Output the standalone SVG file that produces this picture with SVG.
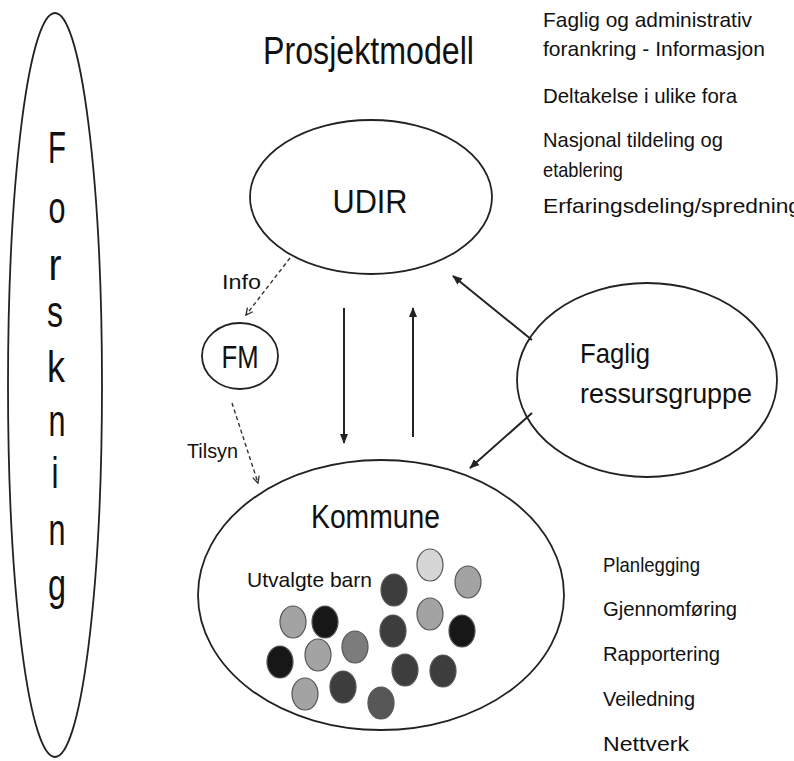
<svg xmlns="http://www.w3.org/2000/svg" width="794" height="761" viewBox="0 0 794 761">
<defs>
<style>
text{font-family:"Liberation Sans","DejaVu Sans",sans-serif;fill:#111}
.node{fill:none;stroke:#222;stroke-width:1.8}
.solid{stroke:#222;stroke-width:2;fill:none}
.dash{stroke:#333;stroke-width:1.4;fill:none;stroke-dasharray:4 3}
.dot{stroke:#555;stroke-width:1.2}
.c1{fill:#d6d6d6}
.c2{fill:#a3a3a3}
.c3{fill:#7c7c7c}
.c4{fill:#3d3d3d}
.c5{fill:#171717}
.c6{fill:#575757}
</style>
<marker id="ah" viewBox="0 0 10 10" refX="9" refY="5" markerWidth="5" markerHeight="5" orient="auto" markerUnits="strokeWidth">
<path d="M0,1 L10,5 L0,9 Z" fill="#222"/>
</marker>
<marker id="ahd" viewBox="0 0 10 10" refX="9" refY="5" markerWidth="6" markerHeight="6" orient="auto" markerUnits="strokeWidth">
<path d="M1,1 L9,5 L1,9" fill="none" stroke="#333" stroke-width="1.6"/>
</marker>
</defs>
<rect width="794" height="761" fill="#fff"/>

<g id="title">
<text x="263" y="64" font-size="38" textLength="211" lengthAdjust="spacingAndGlyphs">Prosjektmodell</text>
</g>

<g id="udir-notes" font-size="21">
<text x="543" y="27" textLength="209" lengthAdjust="spacingAndGlyphs">Faglig og administrativ</text>
<text x="543" y="56" textLength="222" lengthAdjust="spacingAndGlyphs">forankring - Informasjon</text>
<text x="543" y="103" textLength="194" lengthAdjust="spacingAndGlyphs">Deltakelse i ulike fora</text>
<text x="543" y="147" textLength="180" lengthAdjust="spacingAndGlyphs">Nasjonal tildeling og</text>
<text x="543" y="177" textLength="80" lengthAdjust="spacingAndGlyphs">etablering</text>
<text x="543" y="213" textLength="258" lengthAdjust="spacingAndGlyphs">Erfaringsdeling/spredning</text>
</g>

<g id="forskning">
<ellipse class="node" cx="55" cy="385" rx="47" ry="372"/>
<g font-size="44" text-anchor="middle">
<text x="57" y="163" textLength="18" lengthAdjust="spacingAndGlyphs">F</text>
<text x="57" y="223" textLength="17" lengthAdjust="spacingAndGlyphs">o</text>
<text x="55" y="280" textLength="13" lengthAdjust="spacingAndGlyphs">r</text>
<text x="55" y="327" textLength="16" lengthAdjust="spacingAndGlyphs">s</text>
<text x="56" y="382" textLength="18" lengthAdjust="spacingAndGlyphs">k</text>
<text x="57" y="436" textLength="17" lengthAdjust="spacingAndGlyphs">n</text>
<text x="55" y="488" textLength="7" lengthAdjust="spacingAndGlyphs">i</text>
<text x="57" y="545" textLength="17" lengthAdjust="spacingAndGlyphs">n</text>
<text x="57" y="600" textLength="18" lengthAdjust="spacingAndGlyphs">g</text>
</g>
</g>

<g id="udir">
<ellipse class="node" cx="371" cy="197" rx="121" ry="77"/>
<text x="370" y="213" font-size="34" text-anchor="middle" textLength="75" lengthAdjust="spacingAndGlyphs">UDIR</text>
</g>

<g id="fm">
<ellipse class="node" cx="240" cy="356" rx="38" ry="33"/>
<text x="240" y="368" font-size="32" text-anchor="middle" textLength="37" lengthAdjust="spacingAndGlyphs">FM</text>
</g>

<g id="faglig">
<ellipse class="node" cx="647" cy="380" rx="130" ry="97"/>
<text x="580" y="363" font-size="28" textLength="70" lengthAdjust="spacingAndGlyphs">Faglig</text>
<text x="580" y="403" font-size="28" textLength="172" lengthAdjust="spacingAndGlyphs">ressursgruppe</text>
</g>

<g id="kommune">
<ellipse class="node" cx="381" cy="595" rx="183" ry="135"/>
<text x="311" y="528" font-size="34" textLength="129" lengthAdjust="spacingAndGlyphs">Kommune</text>
<text x="247" y="587" font-size="21" textLength="125" lengthAdjust="spacingAndGlyphs">Utvalgte barn</text>
<g id="barn">
<ellipse class="dot c1" cx="430" cy="565" rx="13" ry="16"/>
<ellipse class="dot c2" cx="468" cy="582" rx="13" ry="16"/>
<ellipse class="dot c4" cx="394" cy="590" rx="13" ry="16"/>
<ellipse class="dot c2" cx="430" cy="614" rx="13" ry="16"/>
<ellipse class="dot c5" cx="462" cy="631" rx="13" ry="16"/>
<ellipse class="dot c4" cx="393" cy="631" rx="13" ry="16"/>
<ellipse class="dot c2" cx="293" cy="622" rx="13" ry="16"/>
<ellipse class="dot c5" cx="325" cy="622" rx="13" ry="16"/>
<ellipse class="dot c3" cx="355" cy="647" rx="13" ry="16"/>
<ellipse class="dot c2" cx="318" cy="655" rx="13" ry="16"/>
<ellipse class="dot c5" cx="280" cy="662" rx="13" ry="16"/>
<ellipse class="dot c4" cx="405" cy="670" rx="13" ry="16"/>
<ellipse class="dot c4" cx="443" cy="671" rx="13" ry="16"/>
<ellipse class="dot c2" cx="305" cy="694" rx="13" ry="16"/>
<ellipse class="dot c4" cx="343" cy="687" rx="13" ry="16"/>
<ellipse class="dot c6" cx="381" cy="703" rx="13" ry="16"/>
</g>
</g>

<g id="kommune-notes" font-size="21">
<text x="603" y="572" textLength="97" lengthAdjust="spacingAndGlyphs">Planlegging</text>
<text x="603" y="616" textLength="134" lengthAdjust="spacingAndGlyphs">Gjennomføring</text>
<text x="603" y="661" textLength="117" lengthAdjust="spacingAndGlyphs">Rapportering</text>
<text x="603" y="706" textLength="92" lengthAdjust="spacingAndGlyphs">Veiledning</text>
<text x="603" y="751" textLength="86" lengthAdjust="spacingAndGlyphs">Nettverk</text>
</g>

<g id="connectors">
<line class="dash" x1="290" y1="258" x2="246" y2="315" marker-end="url(#ahd)"/>
<text x="222" y="289" font-size="20" textLength="39" lengthAdjust="spacingAndGlyphs">Info</text>
<line class="dash" x1="232" y1="403" x2="258" y2="483" marker-end="url(#ahd)"/>
<text x="187" y="458" font-size="20" textLength="51" lengthAdjust="spacingAndGlyphs">Tilsyn</text>
<line class="solid" x1="344" y1="308" x2="344" y2="443" marker-end="url(#ah)"/>
<line class="solid" x1="413" y1="437" x2="413" y2="308" marker-end="url(#ah)"/>
<line class="solid" x1="532" y1="340" x2="453" y2="276" marker-end="url(#ah)"/>
<line class="solid" x1="532" y1="413" x2="470" y2="468" marker-end="url(#ah)"/>
</g>
</svg>
